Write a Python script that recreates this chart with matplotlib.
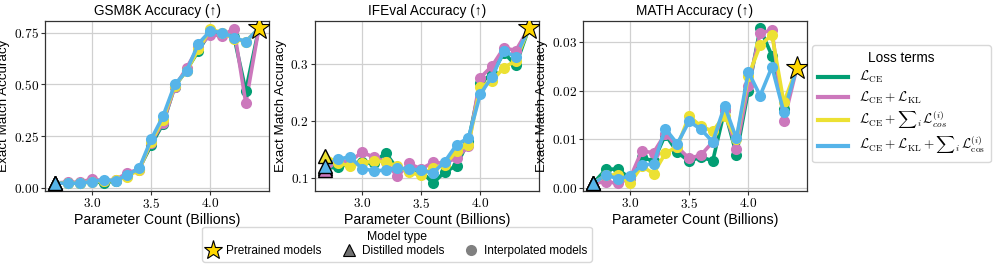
import matplotlib
matplotlib.use("Agg")
import matplotlib.pyplot as plt
from matplotlib.lines import Line2D
from matplotlib.ticker import FuncFormatter, FixedLocator

plt.rcParams['mathtext.fontset'] = 'cm'
plt.rcParams['font.family'] = ['Liberation Sans', 'DejaVu Sans']

# ---------------- data ----------------
x_interp = [2.8, 2.9, 3.0, 3.1, 3.2, 3.3, 3.4, 3.5, 3.6, 3.7, 3.8, 3.9, 4.0, 4.1, 4.2, 4.3]
x_distilled = 2.69
x_pretrained = 4.41

loss_labels = [
    r'$\mathcal{L}_{\mathrm{CE}}$',
    r'$\mathcal{L}_{\mathrm{CE}} + \mathcal{L}_{\mathrm{KL}}$',
    r'$\mathcal{L}_{\mathrm{CE}} + {\sum}_i\, \mathcal{L}_{cos}^{(i)}$',
    r'$\mathcal{L}_{\mathrm{CE}} + \mathcal{L}_{\mathrm{KL}} + {\sum}_i\, \mathcal{L}_{\mathrm{cos}}^{(i)}$',
]
loss_colors = ['#029E73', '#CC78BC', '#ECE133', '#56B4E9']

titles = ['GSM8K Accuracy (↑)', 'IFEval Accuracy (↑)', 'MATH Accuracy (↑)']

gsm_ce      = [0.025, 0.025, 0.035, 0.024, 0.037, 0.060, 0.095, 0.207, 0.310, 0.490, 0.570, 0.662, 0.755, 0.745, 0.730, 0.470]
gsm_ce_kl   = [0.030, 0.028, 0.045, 0.035, 0.040, 0.075, 0.090, 0.220, 0.316, 0.487, 0.580, 0.680, 0.739, 0.735, 0.769, 0.410]
gsm_ce_cos  = [0.025, 0.025, 0.030, 0.035, 0.038, 0.056, 0.090, 0.225, 0.330, 0.495, 0.565, 0.670, 0.766, 0.750, 0.720, 0.707]
gsm_all     = [0.024, 0.024, 0.032, 0.040, 0.037, 0.064, 0.096, 0.235, 0.346, 0.500, 0.565, 0.697, 0.758, 0.750, 0.726, 0.707]
gsm_distilled = [0.025, 0.025, 0.025, 0.025]
gsm_pretrained = 0.77

ife_ce      = [0.118, 0.125, 0.127, 0.125, 0.144, 0.115, 0.115, 0.112, 0.090, 0.110, 0.121, 0.165, 0.266, 0.284, 0.320, 0.298]
ife_ce_kl   = [0.130, 0.128, 0.145, 0.136, 0.128, 0.102, 0.125, 0.115, 0.127, 0.125, 0.135, 0.155, 0.276, 0.297, 0.329, 0.324]
ife_ce_cos  = [0.126, 0.120, 0.126, 0.129, 0.128, 0.120, 0.109, 0.104, 0.117, 0.122, 0.147, 0.158, 0.260, 0.271, 0.294, 0.306]
ife_all     = [0.132, 0.137, 0.116, 0.112, 0.113, 0.117, 0.115, 0.113, 0.108, 0.128, 0.158, 0.170, 0.247, 0.278, 0.323, 0.313]
ife_distilled = [0.117, 0.113, 0.138, 0.121]
ife_pretrained = 0.363

math_ce     = [0.0039, 0.0039, 0.0020, 0.0064, 0.0055, 0.0110, 0.0074, 0.0055, 0.0064, 0.0056, 0.0160, 0.0069, 0.0200, 0.0328, 0.0272, 0.0163]
math_ce_kl  = [0.0013, 0.0010, 0.0020, 0.0076, 0.0073, 0.0112, 0.0085, 0.0061, 0.0068, 0.0095, 0.0160, 0.0081, 0.0210, 0.0318, 0.0325, 0.0137]
math_ce_cos = [0.0027, 0.0027, 0.0010, 0.0045, 0.0030, 0.0072, 0.0085, 0.0148, 0.0127, 0.0117, 0.0149, 0.0100, 0.0230, 0.0293, 0.0315, 0.0176]
math_all    = [0.0027, 0.0019, 0.0025, 0.0047, 0.0050, 0.0122, 0.0091, 0.0137, 0.0121, 0.0095, 0.0169, 0.0102, 0.0239, 0.0190, 0.0249, 0.0156]
math_distilled = [0.0010, 0.0010, 0.0010, 0.0010]
math_pretrained = 0.0247

panels = [
    ([gsm_ce, gsm_ce_kl, gsm_ce_cos, gsm_all], gsm_distilled, gsm_pretrained, [0.0, 0.25, 0.5, 0.75], '%.2f'),
    ([ife_ce, ife_ce_kl, ife_ce_cos, ife_all], ife_distilled, ife_pretrained, [0.1, 0.2, 0.3], '%.1f'),
    ([math_ce, math_ce_kl, math_ce_cos, math_all], math_distilled, math_pretrained, [0.0, 0.01, 0.02, 0.03], '%.2f'),
]

# ---------------- figure ----------------
W, H = 997, 277
fig = plt.figure(figsize=(W / 100, H / 100), dpi=100)
lefts = [45, 315, 583]
ax_w, top, bot = 224, 20.7, 191

for i, (series, dist, pre, yticks, fmt) in enumerate(panels):
    ax = fig.add_axes([lefts[i] / W, 1 - bot / H, ax_w / W, (bot - top) / H])
    ax.grid(True, color='#d0d0d0', linewidth=0.9)
    ax.set_axisbelow(True)
    for s, c in zip(series, loss_colors):
        ax.plot(x_interp, s, color=c, linewidth=2.6, marker='o', markersize=8,
                markeredgewidth=0, zorder=3)
    for d, c, s in zip(dist, loss_colors, series):
        ax.plot([x_distilled, x_interp[0]], [d, s[0]], color=c, linewidth=2.6, zorder=2)
        ax.plot([x_interp[-1], x_pretrained], [s[-1], pre], color=c, linewidth=2.6, zorder=2)
        ax.plot([x_distilled], [d], marker='^', markersize=10, color=c,
                markeredgecolor='black', markeredgewidth=1.0, linestyle='none', zorder=5)
    ax.plot([x_pretrained], [pre], marker='*', markersize=17, color='#FFD700',
            markeredgecolor='black', markeredgewidth=0.8, linestyle='none', zorder=6)
    ax.xaxis.set_major_locator(FixedLocator([3.0, 3.5, 4.0]))
    ax.yaxis.set_major_locator(FixedLocator(yticks))
    ax.xaxis.set_major_formatter(FuncFormatter(lambda v, p: r'$%.1f$' % v))
    ax.yaxis.set_major_formatter(FuncFormatter(lambda v, p, f=fmt: r'$' + (f % v) + r'$'))
    ax.tick_params(labelsize=9.6, length=3, width=0.8, color='#333333', pad=1.5)
    for sp in ax.spines.values():
        sp.set_color('#333333')
        sp.set_linewidth(0.9)
    ax.set_title(titles[i], fontsize=9.8, pad=4)
    ax.set_xlabel('Parameter Count (Billions)', fontsize=10.2, labelpad=1)
    ax.set_ylabel('Exact Match Accuracy', fontsize=9.6, labelpad=2.5)

# loss terms legend
loss_handles = [Line2D([0], [0], color=c, linewidth=3) for c in loss_colors]
fig.legend(loss_handles, loss_labels, title='Loss terms', loc='upper left',
           bbox_to_anchor=(812 / W, 1 - 45 / H), borderaxespad=0,
           fontsize=9.5, title_fontsize=9.8,
           handlelength=2.3, labelspacing=0.32, borderpad=0.45, framealpha=1,
           edgecolor='#d8d8d8')

# model type legend
type_handles = [
    Line2D([0], [0], marker='*', color='#FFD700', markeredgecolor='black', markeredgewidth=0.8,
           markersize=14, linestyle='none'),
    Line2D([0], [0], marker='^', color='#707070', markeredgecolor='black', markeredgewidth=0.8,
           markersize=9, linestyle='none'),
    Line2D([0], [0], marker='o', color='#808080', markeredgewidth=0,
           markersize=8, linestyle='none'),
]
fig.legend(type_handles, ['Pretrained models', 'Distilled models', 'Interpolated models'],
           title='Model type', loc='upper center', bbox_to_anchor=(397 / W, 1 - 227 / H),
           borderaxespad=0, ncol=3, fontsize=8.5, title_fontsize=8.8, handlelength=1.2,
           handletextpad=0.5, columnspacing=1.7, borderpad=0.35, labelspacing=0.2,
           framealpha=1, edgecolor='#d8d8d8')

fig.savefig('out.png', dpi=100)
